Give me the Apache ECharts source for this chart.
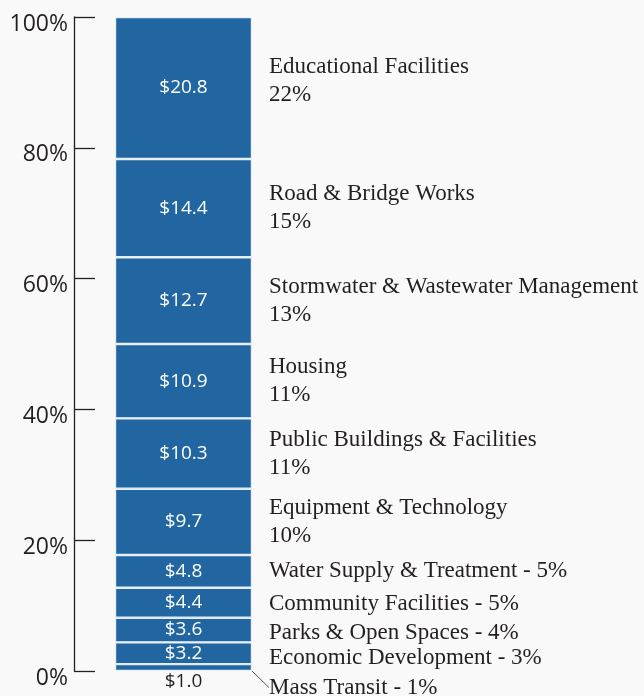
<!DOCTYPE html>
<html>
<head>
<meta charset="utf-8">
<script src="https://cdn.jsdelivr.net/npm/echarts@6/dist/echarts.min.js"></script>
<style>
  html, body { margin: 0; padding: 0; background: #f9f9f9; }
  #chart { width: 644px; height: 696px; }
</style>
</head>
<body>
<div id="chart"></div>
<script>
// bottom to top
const names = ['Mass Transit', 'Economic Development', 'Parks & Open Spaces', 'Community Facilities',
  'Water Supply & Treatment', 'Equipment & Technology', 'Public Buildings & Facilities', 'Housing',
  'Stormwater & Wastewater Management', 'Road & Bridge Works', 'Educational Facilities'];
const values = [1.0, 3.2, 3.6, 4.4, 4.8, 9.7, 10.3, 10.9, 12.7, 14.4, 20.8];
const pctLabels = ['1%', '3%', '4%', '5%', '5%', '10%', '11%', '11%', '13%', '15%', '22%'];
const twoLine = [false, false, false, false, false, true, true, true, true, true, true];
const yTicks = [0, 20, 40, 60, 80, 100];

const total = values.reduce((a, b) => a + b, 0);
const share = values.map(v => v / total * 100);

const chart = echarts.init(document.getElementById('chart'));
const blue = '#2166a0';
const series = [];
// small nudges of the right hand names, as in the original layout
const nudge = { 0: 20, 1: 5, 2: 3, 3: 1, 10: -7 };

// visible bar segments with $ labels
names.forEach(function(n, i) {
    const first = i === 0;
    series.push({
        name: n,
        type: 'bar',
        stack: 'a',
        barWidth: 137,
        barGap: '-100%',
        data: [share[i]],
        itemStyle: { color: blue, borderColor: '#e8eef5', borderWidth: 1.2 },
        label: {
            show: true,
            position: first ? 'bottom' : 'inside',
            distance: 1,
            formatter: '$' + values[i].toFixed(1),
            color: first ? '#231f20' : '#ffffff',
            fontFamily: 'Open Sans',
            fontSize: 19
        },
        silent: true
    });
});

// transparent copy for the names on the right
names.forEach(function(n, i) {
    const first = i === 0;
    series.push({
        name: n + ' label',
        type: 'bar',
        stack: 'b',
        barWidth: 137,
        barGap: '-100%',
        data: [share[i]],
        itemStyle: { color: 'rgba(0,0,0,0)' },
        label: {
            show: true,
            position: 'right',
            distance: 17,
            align: 'left',
            formatter: twoLine[i] ? n + '\n' + pctLabels[i] : n + ' - ' + pctLabels[i],
            color: '#231f20',
            fontFamily: 'Liberation Serif',
            fontSize: 23,
            lineHeight: 28
        },
        labelLayout: nudge[i] ? { dy: nudge[i] } : null,
        labelLine: first ? { show: true, lineStyle: { color: '#555', width: 1 } } : undefined,
        silent: true
    });
});

chart.setOption({
    backgroundColor: '#f9f9f9',
    animation: false,
    grid: { left: 74, right: 351, top: 17, bottom: 25 },
    xAxis: {
        type: 'category',
        data: [''],
        show: false
    },
    yAxis: {
        type: 'value',
        min: 0,
        max: 100,
        interval: 20,
        axisLine: { show: true, lineStyle: { color: '#231f20', width: 1.3 } },
        axisTick: { show: true, inside: true, length: 21, lineStyle: { color: '#231f20', width: 1.3 } },
        splitLine: { show: false },
        axisLabel: {
            margin: 6,
            formatter: function(v) { return yTicks.indexOf(v) >= 0 ? v + '%' : ''; },
            color: '#231f20',
            fontFamily: 'Open Sans',
            fontSize: 23,
            verticalAlign: 'top',
            lineHeight: 14
        }
    },
    series: series
});
</script>
</body>
</html>
